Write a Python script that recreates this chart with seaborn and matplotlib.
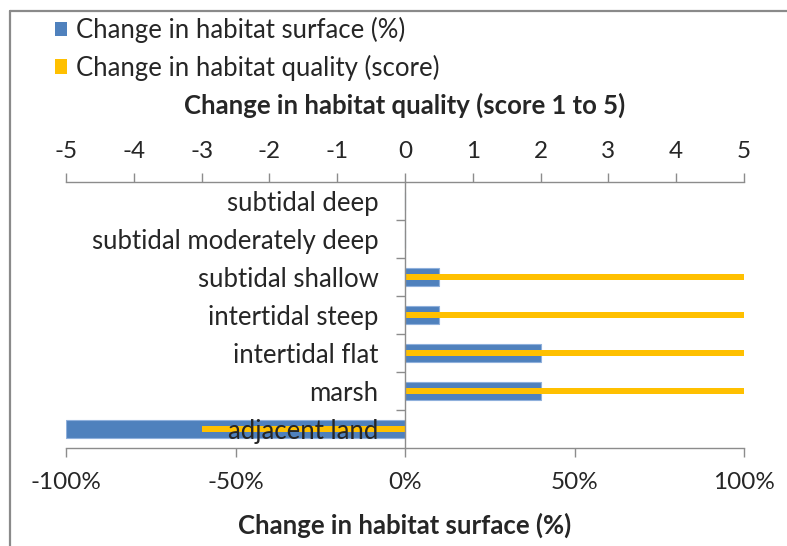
import matplotlib
matplotlib.use("Agg")
import matplotlib.pyplot as plt
from matplotlib.patches import Patch
from matplotlib.lines import Line2D
from matplotlib.ticker import FuncFormatter, FixedLocator
import seaborn as sns
import pandas as pd

# Habitat classes, top to bottom
habitats = [
    "subtidal deep",
    "subtidal moderately deep",
    "subtidal shallow",
    "intertidal steep",
    "intertidal flat",
    "marsh",
    "adjacent land",
]
# Change in habitat surface (%)
surface_change = [0, 0, 10, 10, 40, 40, -100]
# Change in habitat quality (score)
quality_change = [0, 0, 5, 5, 5, 5, -3]

surface_ticks = [-100, -50, 0, 50, 100]
quality_ticks = [-5, -4, -3, -2, -1, 0, 1, 2, 3, 4, 5]

df = pd.DataFrame({
    "habitat": habitats,
    "surface": surface_change,
    "quality": quality_change,
})

sns.set_style("white")
plt.rcParams["font.family"] = ["Lato", "DejaVu Sans"]
plt.rcParams["axes.unicode_minus"] = False

BLUE = "#4f81bd"
YELLOW = "#ffc000"
GRID = "#8c8c8c"
TEXT = "#262626"
FS = 18.5
FS_TICK = 17.5

W, H = 787, 546
fig = plt.figure(figsize=(W / 100, H / 100), dpi=100)

# plot area in pixels (left, top, right, bottom)
x0, y0, x1, y1 = 66, 182, 744, 448
rect = [x0 / W, 1 - y1 / H, (x1 - x0) / W, (y1 - y0) / H]

ax = fig.add_axes(rect)
ax2 = fig.add_axes(rect)
ax2.patch.set_visible(False)

# surface change bars (bottom axis)
sns.barplot(data=df, y="habitat", x="surface", order=habitats, orient="h",
            color=BLUE, width=0.49, edgecolor="#8fb0dc", linewidth=0.8,
            saturation=1, ax=ax)
# quality change bars (top axis)
sns.barplot(data=df, y="habitat", x="quality", order=habitats, orient="h",
            color=YELLOW, width=0.18, linewidth=0, saturation=1, ax=ax2)

n = len(habitats)
for a in (ax, ax2):
    a.set_ylim(n - 0.5, -0.5)
    a.set_ylabel("")
    a.set_xlabel("")
    for s in a.spines.values():
        s.set_visible(False)

# bottom axis: surface change
ax.set_xlim(-100, 100)
ax.set_xticks(surface_ticks)
ax.xaxis.set_major_formatter(FuncFormatter(lambda v, p: f"{v:.0f}%"))
ax.spines["bottom"].set_visible(True)
ax.spines["bottom"].set_color(GRID)
ax.spines["bottom"].set_linewidth(1.0)
ax.tick_params(axis="x", bottom=True, direction="out", length=6.5, width=1.0,
               color=GRID, pad=10.5, labelsize=FS_TICK, labelcolor=TEXT)
ax.tick_params(axis="y", left=False, labelleft=False)
ax.set_yticks([])
ax.set_xlabel("Change in habitat surface (%)", fontsize=FS, fontweight="bold",
              color=TEXT)
ax.xaxis.set_label_coords(0.5, (y1 - 525) / (y1 - y0))
ax.xaxis.label.set_va("center")

# top axis: quality change, category axis at zero
ax2.set_xlim(-5, 5)
ax2.xaxis.tick_top()
ax2.set_xticks(quality_ticks)
ax2.spines["top"].set_visible(True)
ax2.spines["top"].set_color(GRID)
ax2.spines["top"].set_linewidth(1.0)
ax2.tick_params(axis="x", top=True, bottom=False, labeltop=True,
                labelbottom=False, direction="out", length=6.5, width=1.0,
                color=GRID, pad=8, labelsize=FS_TICK, labelcolor=TEXT)
ax2.xaxis.set_label_position("top")
ax2.set_xlabel("Change in habitat quality (score 1 to 5)", fontsize=FS,
               fontweight="bold", color=TEXT)
ax2.xaxis.set_label_coords(0.5, (y1 - 105) / (y1 - y0))
ax2.xaxis.label.set_va("center")

ax2.spines["left"].set_visible(True)
ax2.spines["left"].set_position(("data", 0))
ax2.spines["left"].set_color(GRID)
ax2.spines["left"].set_linewidth(1.0)
ax2.set_yticks(range(n))
ax2.set_yticklabels(habitats)
ax2.yaxis.set_minor_locator(FixedLocator([i + 0.5 for i in range(n - 1)]))
ax2.tick_params(axis="y", which="major", left=True, length=0, pad=19,
                labelsize=FS, labelcolor=TEXT)
ax2.tick_params(axis="y", which="minor", left=True, length=6.5, width=1.0,
                color=GRID)
ax2.set_axisbelow(False)

# legend
handles = [Patch(facecolor=BLUE, edgecolor="none"),
           Patch(facecolor=YELLOW, edgecolor="none")]
labels = ["Change in habitat surface (%)", "Change in habitat quality (score)"]
leg = fig.legend(handles, labels, loc="upper left",
                 bbox_to_anchor=(55 / W, 1 - 17 / H), frameon=False,
                 borderpad=0, borderaxespad=0, handlelength=0.48,
                 handleheight=0.48, handletextpad=0.35, labelspacing=0.45,
                 fontsize=FS)
for t in leg.get_texts():
    t.set_color(TEXT)

# chart frame
fig.add_artist(Line2D([10 / W, 10 / W], [0, 1 - 11 / H], transform=fig.transFigure,
                      color="#8a8a8a", linewidth=1.6))
fig.add_artist(Line2D([10 / W, 1], [1 - 11 / H, 1 - 11 / H],
                      transform=fig.transFigure, color="#8a8a8a", linewidth=1.6))

fig.savefig("out.png", dpi=100, facecolor="white")
